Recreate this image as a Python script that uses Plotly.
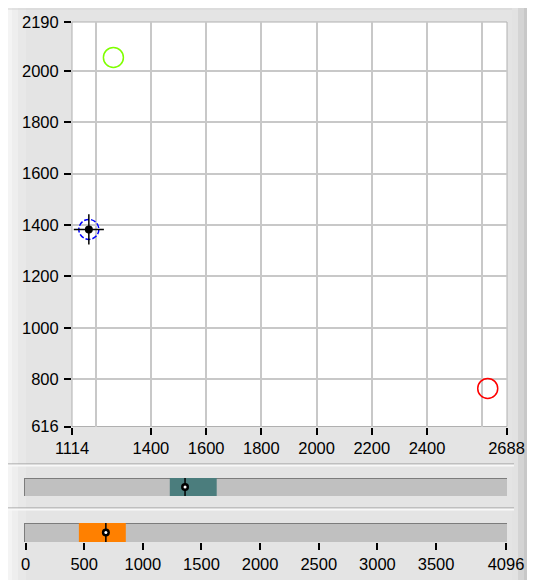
import plotly.graph_objects as go

# main XY graph: three points (green, blue cursor, red)
pt_x = [1264, 2620]
pt_y = [2052, 764]
pt_colors = ['#7fff00', '#ff0000']
cursor_x = [1175]
cursor_y = [1383]

x_ticks = [1114, 1400, 1600, 1800, 2000, 2200, 2400, 2688]
x_grid = [1200, 1400, 1600, 1800, 2000, 2200, 2400, 2600]
y_ticks = [616, 800, 1000, 1200, 1400, 1600, 1800, 2000, 2190]
y_grid = [800, 1000, 1200, 1400, 1600, 1800, 2000]

# range indicators (0..4096)
bar1_start, bar1_end, bar1_mark = 1230, 1630, 1360
bar2_start, bar2_end, bar2_mark = 455, 855, 685
bar_ticks = [0, 500, 1000, 1500, 2000, 2500, 3000, 3500, 4096]

# page body has an 8px margin, so the figure is drawn 8px smaller and
# screen coordinates below are shifted by that offset
OFF = 8
W, H = 535 - OFF, 580 - OFF
def px(x): return (x - OFF) / W
def py(y): return 1 - (y - OFF) / H

fnt = dict(family='Liberation Sans, Arial', size=16.5, color='black')

fig = go.Figure()

fig.add_trace(go.Scatter(
    x=pt_x, y=pt_y, mode='markers',
    marker=dict(symbol='circle-open', size=20, color=pt_colors, line=dict(width=1.5)),
    xaxis='x', yaxis='y', hoverinfo='skip'))
fig.add_trace(go.Scatter(
    x=cursor_x, y=cursor_y, mode='markers',
    marker=dict(symbol='cross-thin-open', size=21.5, color='black', line=dict(width=1.5, color='black')),
    xaxis='x', yaxis='y', hoverinfo='skip'))
fig.add_trace(go.Scatter(
    x=cursor_x, y=cursor_y, mode='markers',
    marker=dict(symbol='circle', size=8, color='black'),
    xaxis='x', yaxis='y', hoverinfo='skip'))

# bars
for (s, e, m, col, xa, ya) in [(bar1_start, bar1_end, bar1_mark, '#4b7d7d', 'x2', 'y2'),
                               (bar2_start, bar2_end, bar2_mark, '#ff8000', 'x3', 'y3')]:
    fig.add_trace(go.Bar(x=[e - s], base=[s], y=[0], orientation='h', width=1,
                         marker=dict(color=col, line=dict(width=0)),
                         xaxis=xa, yaxis=ya, hoverinfo='skip'))
    fig.add_trace(go.Scatter(x=[m, m], y=[-0.5, 0.5], mode='lines',
                             line=dict(color='black', width=1.5),
                             xaxis=xa, yaxis=ya, hoverinfo='skip'))
    fig.add_trace(go.Scatter(x=[m], y=[0], mode='markers',
                             marker=dict(symbol='circle', size=8, color='black'),
                             xaxis=xa, yaxis=ya, hoverinfo='skip'))
    fig.add_trace(go.Scatter(x=[m], y=[0], mode='markers',
                             marker=dict(symbol='circle', size=3, color='white'),
                             xaxis=xa, yaxis=ya, hoverinfo='skip'))

shapes = []
def rect(x0, y0, x1, y1, fill, line=None, layer='below'):
    shapes.append(dict(type='rect', xref='paper', yref='paper',
                       x0=px(x0), x1=px(x1), y0=py(y1), y1=py(y0),
                       fillcolor=fill, line=dict(width=0) if line is None else line,
                       layer=layer))
def hline(x0, x1, y, color, w=1):
    shapes.append(dict(type='line', xref='paper', yref='paper',
                       x0=px(x0), x1=px(x1), y0=py(y), y1=py(y),
                       line=dict(color=color, width=w), layer='below'))
def vline(x, y0, y1, color, w=1):
    shapes.append(dict(type='line', xref='paper', yref='paper',
                       x0=px(x), x1=px(x), y0=py(y0), y1=py(y1),
                       line=dict(color=color, width=w), layer='below'))

# panel frame
rect(8, 0, 12, 580, '#f4f4f4')
rect(12, 0, 18, 580, '#eeeeee')
rect(18, 0, 26, 580, '#e8e8e8')
hline(8, 515, 9, '#d4d4d4')
rect(512, 0, 518, 580, '#e2e2e2')
rect(518, 0, 524, 580, '#d4d4d4')
rect(524, 0, 529, 580, '#c8c8c8')
rect(529, 0, 535, 580, '#bababa')
# separators
for yy in [464, 508]:
    hline(8, 514, yy, '#9a9a9a')
    hline(8, 514, yy + 1.5, '#f8f8f8', 2)
# plot area
rect(72, 22, 507, 426.5, 'white', line=dict(color='#b0b0b0', width=1))
# tracks
for (y0, y1) in [(478, 496), (523, 542)]:
    rect(24, y0, 507, y1, '#c0c0c0')
    hline(24, 507, y0 + 0.5, '#7c7c7c')
    vline(24.5, y0, y1, '#7c7c7c')

# dashed blue ring round the cursor (pixel-sized, anchored at the data point)
shapes.append(dict(type='circle', xref='x', yref='y',
                   xsizemode='pixel', ysizemode='pixel',
                   xanchor=cursor_x[0], yanchor=cursor_y[0],
                   x0=-10, x1=10, y0=-10, y1=10,
                   line=dict(color='#0000ff', width=1.5, dash='5px,2px'),
                   layer='between'))

common = dict(showgrid=False, zeroline=False, automargin=False)

fig.update_layout(
    width=W, height=H,
    margin=dict(l=0, r=0, t=0, b=0, autoexpand=False),
    paper_bgcolor='#e4e4e4', plot_bgcolor='rgba(0,0,0,0)',
    showlegend=False, barmode='overlay',
    font=fnt, shapes=shapes,
    xaxis=dict(domain=[px(72), px(506.5)], range=[1114, 2688], anchor='y',
               tickvals=x_ticks, ticks='outside', ticklen=7, tickcolor='black', tickwidth=1.5,
               showline=False, tickfont=fnt,
               minor=dict(tickvals=x_grid, showgrid=True, gridcolor='#c8c8c8', gridwidth=2, ticks=''),
               **common),
    yaxis=dict(domain=[py(426.5), py(22)], range=[616, 2190], anchor='x',
               tickvals=y_ticks, ticks='outside', ticklen=7, tickcolor='black', tickwidth=1.5,
               showline=False, tickfont=fnt, ticklabelstandoff=2,
               minor=dict(tickvals=y_grid, showgrid=True, gridcolor='#c8c8c8', gridwidth=2, ticks=''),
               **common),
    xaxis2=dict(domain=[px(25.5), px(506)], range=[0, 4096], anchor='y2',
                showticklabels=False, ticks='', **common),
    yaxis2=dict(domain=[py(496), py(478)], range=[-0.5, 0.5], anchor='x2',
                showticklabels=False, ticks='', **common),
    xaxis3=dict(domain=[px(25.5), px(506)], range=[0, 4096], anchor='y3',
                tickvals=bar_ticks, ticks='outside', ticklen=7, tickcolor='black', tickwidth=1.5,
                tickfont=fnt, **common),
    yaxis3=dict(domain=[py(542), py(523)], range=[-0.5, 0.5], anchor='x3',
                showticklabels=False, ticks='', **common),
)

fig.write_html("out.html")
